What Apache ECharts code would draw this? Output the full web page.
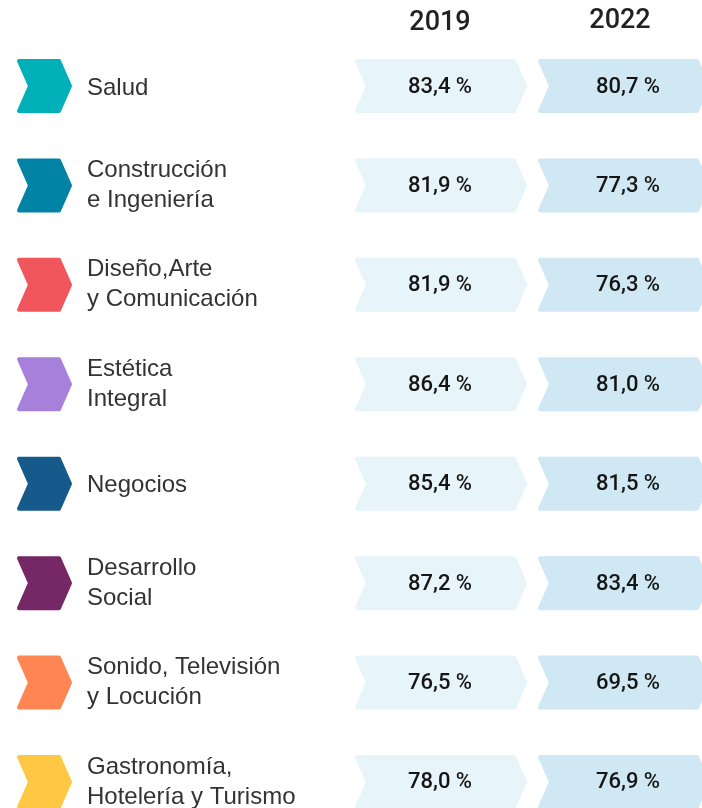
<!DOCTYPE html>
<html>
<head>
<meta charset="utf-8">
<script src="https://cdn.jsdelivr.net/npm/echarts@6/dist/echarts.min.js"></script>
<style>
  html, body { margin: 0; padding: 0; background: #fff; }
  #main { width: 702px; height: 808px; }
</style>
</head>
<body>
<div id="main"></div>
<script>
var areas = [
  'Salud', 'Construcción\ne Ingeniería', 'Diseño,Arte\ny Comunicación', 'Estética\nIntegral',
  'Negocios', 'Desarrollo\nSocial', 'Sonido, Televisión\ny Locución', 'Gastronomía,\nHotelería y Turismo'
];
var areaColors = ['#00B0B9', '#0083A5', '#F0565C', '#A680DA', '#155A8A', '#762766', '#FF8552', '#FFC844'];
var years = ['2019', '2022'];
var values2019 = [83.4, 81.9, 81.9, 86.4, 85.4, 87.2, 76.5, 78.0];
var values2022 = [80.7, 77.3, 76.3, 81.0, 81.5, 83.4, 69.5, 76.9];

var myChart = echarts.init(document.getElementById('main'));

// chevron drawn as polygon, stroke of same colour rounds the corners
function chevron(x, yc, w, h, notch, color) {
  var p = 2;
  var l = x + p, r = x + w - p, t = yc - h / 2 + p, b = yc + h / 2 - p;
  return {
    type: 'polygon',
    shape: {
      points: [[l, t], [r - notch, t], [r, yc], [r - notch, b], [l, b], [l + notch, yc]]
    },
    style: { fill: color, stroke: color, lineWidth: 4, lineJoin: 'round' }
  };
}

function fmt(v) {
  return v.toFixed(1).replace('.', ',') + ' %';
}

function valueSeries(vals, boxX, textX, color) {
  return {
    type: 'custom',
    encode: { x: 1, y: 0 },
    data: vals.map(function (v, i) { return [i, v]; }),
    renderItem: function (params, api) {
      var y = api.coord([0, api.value(0)])[1];
      return {
        type: 'group',
        children: [
          chevron(boxX, y, 172, 54, 11, color),
          {
            type: 'text',
            style: {
              x: textX, y: y + 1, text: fmt(api.value(1)),
              align: 'center', verticalAlign: 'middle',
              font: '500 22px Roboto', fill: '#151515'
            }
          }
        ]
      };
    }
  };
}

var option = {
  animation: false,
  grid: { left: 0, right: 0, top: 0, bottom: 0 },
  xAxis: { type: 'value', min: 0, max: 702, show: false },
  // rows are indices 0..7; range chosen so rows sit ~99px apart
  yAxis: { type: 'value', inverse: true, min: -0.865, max: 7.2615, show: false },
  graphic: years.map(function (yr, i) {
    return {
      type: 'text',
      x: [440, 620][i], y: [23, 21][i],
      style: {
        text: yr, align: 'center', verticalAlign: 'middle',
        font: '500 27px Roboto', fill: '#222'
      }
    };
  }),
  series: [
    {
      type: 'custom',
      encode: { x: 1, y: 0 },
      data: areas.map(function (a, i) { return [i, 0]; }),
      renderItem: function (params, api) {
        var i = api.value(0);
        var y = api.coord([0, i])[1];
        var oneLine = areas[i].indexOf('\n') < 0;
        return {
          type: 'group',
          children: [
            chevron(17, y, 55, 54, 11, areaColors[i]),
            {
              type: 'text',
              style: {
                x: 87, y: y + (oneLine ? 2 : 0), text: areas[i],
                align: 'left', verticalAlign: 'middle',
                font: '24px "Liberation Sans", Arial', lineHeight: 30, fill: '#333'
              }
            }
          ]
        };
      }
    },
    valueSeries(values2019, 355, 440, '#E7F4F9'),
    valueSeries(values2022, 538, 628, '#CFE8F3')
  ]
};
myChart.setOption(option);
</script>
</body>
</html>
